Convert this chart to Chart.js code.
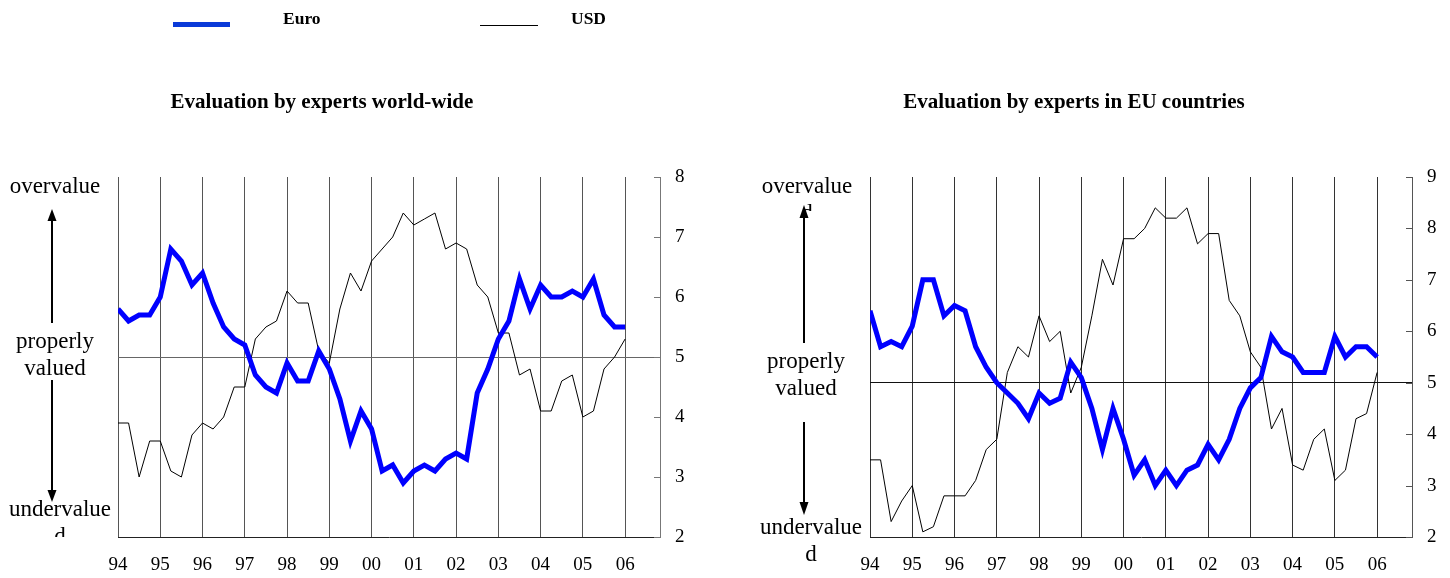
<!DOCTYPE html>
<html>
<head>
<meta charset="utf-8">
<script src="https://cdn.jsdelivr.net/npm/chart.js@4.4.0/dist/chart.umd.min.js"></script>
<style>
html,body{margin:0;padding:0;background:#fff;}
#wrap{position:relative;width:1450px;height:578px;overflow:hidden;font-family:"Liberation Serif","Times New Roman",serif;color:#000;}
canvas{position:absolute;top:0;}
.t{position:absolute;white-space:nowrap;}
.title{font-weight:bold;font-size:21px;line-height:24px;text-align:center;width:500px;}
.ann{font-size:23px;line-height:27px;text-align:center;width:140px;overflow:hidden;}
.leg{font-weight:bold;font-size:17.5px;line-height:20px;}
svg{position:absolute;left:0;top:0;}
</style>
</head>
<body>
<div id="wrap">
  <canvas id="c1" width="725" height="578" style="left:0;width:725px;height:578px"></canvas>
  <canvas id="c2" width="725" height="578" style="left:725px;width:725px;height:578px"></canvas>

  <div class="t" style="left:173px;top:22px;width:57px;height:5px;background:#0a3ad8"></div>
  <div class="t leg" style="left:283px;top:8px">Euro</div>
  <div class="t" style="left:480px;top:25px;width:58px;height:1px;background:#000"></div>
  <div class="t leg" style="left:571px;top:8px">USD</div>

  <div class="t title" style="left:72px;top:89px">Evaluation by experts world-wide</div>
  <div class="t title" style="left:824px;top:89px">Evaluation by experts in EU countries</div>

  <div class="t ann" style="left:-15px;top:172px;height:27px">overvalue</div>
  <div class="t ann" style="left:-15px;top:327px">properly<br>valued</div>
  <div class="t ann" style="left:-10px;top:495px;height:42px">undervalue<br>d</div>

  <div class="t ann" style="left:737px;top:172px;height:39px">overvalue<br>d</div>
  <div class="t ann" style="left:736px;top:347px">properly<br>valued</div>
  <div class="t ann" style="left:741px;top:513px">undervalue<br>d</div>

  <svg width="1450" height="578">
    <g fill="#000" stroke="#000" stroke-width="2">
      <line x1="52" y1="220" x2="52" y2="323"/>
      <polygon points="52,209 47.5,221 56.5,221" stroke="none"/>
      <line x1="52" y1="380" x2="52" y2="491"/>
      <polygon points="52,502 47.5,490 56.5,490" stroke="none"/>
      <line x1="804" y1="217" x2="804" y2="343"/>
      <polygon points="804,205 799.5,218 808.5,218" stroke="none"/>
      <line x1="804" y1="422" x2="804" y2="503"/>
      <polygon points="804,515 799.5,502 808.5,502" stroke="none"/>
    </g>
  </svg>
</div>
<script>
const yearLabels = ['94','95','96','97','98','99','00','01','02','03','04','05','06'];

const euroWorld = [5.8,5.6,5.7,5.7, 6.0,6.8,6.6,6.2, 6.4,5.9,5.5,5.3, 5.2,4.7,4.5,4.4,
                   4.9,4.6,4.6,5.1, 4.8,4.3,3.6,4.1, 3.8,3.1,3.2,2.9, 3.1,3.2,3.1,3.3,
                   3.4,3.3,4.4,4.8, 5.3,5.6,6.3,5.8, 6.2,6.0,6.0,6.1, 6.0,6.3,5.7,5.5, 5.5];
const usdWorld  = [3.9,3.9,3.0,3.6, 3.6,3.1,3.0,3.7, 3.9,3.8,4.0,4.5, 4.5,5.3,5.5,5.6,
                   6.1,5.9,5.9,5.1, 4.9,5.8,6.4,6.1, 6.6,6.8,7.0,7.4, 7.2,7.3,7.4,6.8,
                   6.9,6.8,6.2,6.0, 5.4,5.4,4.7,4.8, 4.1,4.1,4.6,4.7, 4.0,4.1,4.8,5.0, 5.3];
const euroEU    = [6.4,5.7,5.8,5.7, 6.1,7.0,7.0,6.3, 6.5,6.4,5.7,5.3, 5.0,4.8,4.6,4.3,
                   4.8,4.6,4.7,5.4, 5.1,4.5,3.7,4.5, 3.9,3.2,3.5,3.0, 3.3,3.0,3.3,3.4,
                   3.8,3.5,3.9,4.5, 4.9,5.1,5.9,5.6, 5.5,5.2,5.2,5.2, 5.9,5.5,5.7,5.7, 5.5];
const usdEU     = [3.5,3.5,2.3,2.7, 3.0,2.1,2.2,2.8, 2.8,2.8,3.1,3.7, 3.9,5.2,5.7,5.5,
                   6.3,5.8,6.0,4.8, 5.3,6.3,7.4,6.9, 7.8,7.8,8.0,8.4, 8.2,8.2,8.4,7.7,
                   7.9,7.9,6.6,6.3, 5.6,5.3,4.1,4.5, 3.4,3.3,3.9,4.1, 3.1,3.3,4.3,4.4, 5.2];

const yRangeWorld = [2, 8];
const yRangeEU = [2, 9];
const neutralValue = 5;
const quartersPerYear = 4;

const FONT = '"Liberation Serif","Times New Roman",serif';

function pts(arr){ return arr.map((v,i)=>({x:i, y:v})); }

const innerTicks = {
  id:'innerTicks',
  afterDraw(chart, args, opts){
    const y = chart.scales.y, ctx = chart.ctx;
    ctx.save();
    ctx.strokeStyle = opts.color; ctx.lineWidth = 1;
    y.ticks.forEach(t=>{
      const py = Math.round(y.getPixelForValue(t.value))+0.5;
      ctx.beginPath(); ctx.moveTo(y.left-6, py); ctx.lineTo(y.left, py); ctx.stroke();
    });
    ctx.restore();
  }
};

function makeChart(id, euro, usd, yr, cfg){
  return new Chart(document.getElementById(id), {
    type:'line',
    data:{datasets:[
      {label:'Euro', data:pts(euro), borderColor:'#0000ff', borderWidth:5, pointRadius:0, tension:0, fill:false},
      {label:'USD', data:pts(usd), borderColor:'#000', borderWidth:1, pointRadius:0, tension:0, fill:false}
    ]},
    options:{
      responsive:false, animation:false, devicePixelRatio:1,
      layout:{padding:{left:cfg.padLeft, top:177, right:0, bottom:0}},
      plugins:{legend:{display:false}, tooltip:{enabled:false}, title:{display:false}, innerTicks:{color:cfg.axisColor}},
      scales:{
        x:{type:'linear', min:0, max:51.3,
           afterBuildTicks(s){ s.ticks = yearLabels.map((_,i)=>({value:i*quartersPerYear})); },
           afterFit(s){ s.height = 41; },
           ticks:{callback:(v,i)=>yearLabels[i], font:{family:FONT,size:19}, color:'#000', padding:17, maxRotation:0, autoSkip:false},
           grid:{drawTicks:false, color:cfg.gridColor, lineWidth:1},
           border:{display:true, color:cfg.xBorder, width:1}
        },
        y:{type:'linear', position:'right', min:yr[0], max:yr[1],
           afterFit(s){ s.width = cfg.yWidth; },
           ticks:{stepSize:1, font:{family:FONT,size:19}, color:'#000', padding:15},
           grid:{drawTicks:false, lineWidth:1, color:(c)=> c.tick && c.tick.value===neutralValue ? cfg.fiveColor : 'rgba(0,0,0,0)'},
           border:{display:true, color:cfg.axisColor, width:1}
        }
      }
    },
    plugins:[innerTicks]
  });
}

makeChart('c1', euroWorld, usdWorld, yRangeWorld, {padLeft:118, yWidth:65, gridColor:'#555', xBorder:'#222', axisColor:'#777', fiveColor:'#666'});
makeChart('c2', euroEU, usdEU, yRangeEU, {padLeft:145, yWidth:38, gridColor:'#333', xBorder:'#222', axisColor:'#555', fiveColor:'#111'});
</script>
</body>
</html>
